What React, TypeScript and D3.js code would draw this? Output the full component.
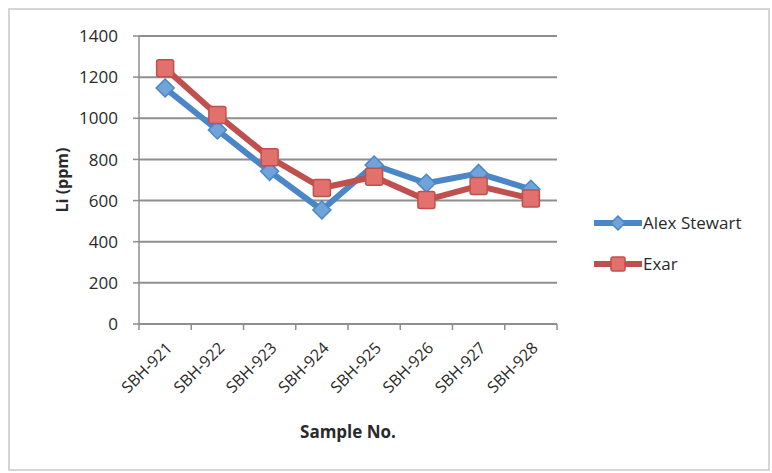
import React from "react";
import * as d3 from "d3";

const categories = ["SBH-921", "SBH-922", "SBH-923", "SBH-924", "SBH-925", "SBH-926", "SBH-927", "SBH-928"];
const alexStewart = [1147, 943, 742, 554, 773, 684, 732, 655];
const exar = [1243, 1016, 810, 661, 716, 603, 671, 610];
const yTicks = [0, 200, 400, 600, 800, 1000, 1200, 1400];
const seriesNames = ["Alex Stewart", "Exar"];

const W = 772, H = 473;
const left = 139, right = 557, top = 36, bottom = 324;
const FONT = "'Open Sans', 'Liberation Sans', sans-serif";

export default function App() {
  const x = d3.scaleBand<string>().domain(categories).range([left, right]);
  const y = d3.scaleLinear().domain([0, 1400]).range([bottom, top]);
  const line = d3.line<number>().x((_, i) => (x(categories[i]) as number) + x.bandwidth() / 2).y((d) => y(d));
  const blue = "#4a86c8";
  const red = "#c0504d";
  const diamond = (cx: number, cy: number, r: number) => `M${cx},${cy - r}L${cx + r},${cy}L${cx},${cy + r}L${cx - r},${cy}Z`;
  const boundaries = d3.range(categories.length + 1).map((i) => left + i * x.bandwidth());

  return (
    <svg width={W} height={H} style={{ position: "absolute", left: 0, top: 0 }}>
      <rect x={0} y={0} width={W} height={H} fill="#ffffff" />
      <rect x={9} y={9} width={760} height={461} fill="#ffffff" stroke="#c8c8c8" strokeWidth={1.5} />
      {yTicks.map((t) => (
        <g key={t}>
          {t > 0 && <line x1={left} x2={right} y1={y(t)} y2={y(t)} stroke="#8e8e8e" strokeWidth={2} />}
          <line x1={left - 6} x2={left} y1={y(t)} y2={y(t)} stroke="#8e8e8e" strokeWidth={1.5} />
          <text x={118} y={y(t)} dy="0.36em" textAnchor="end" fontFamily={FONT} fontSize={17} fill="#2a2a2a">{t}</text>
        </g>
      ))}
      <line x1={left} x2={left} y1={top} y2={bottom} stroke="#8e8e8e" strokeWidth={1.5} />
      <line x1={left} x2={right} y1={bottom} y2={bottom} stroke="#8e8e8e" strokeWidth={2} />
      {boundaries.map((b, i) => (
        <line key={i} x1={b} x2={b} y1={bottom} y2={bottom + 6} stroke="#8e8e8e" strokeWidth={1.5} />
      ))}
      {categories.map((c) => {
        const cx = (x(c) as number) + x.bandwidth() / 2 + 8;
        const cy = bottom + 25;
        return (
          <text key={c} x={cx} y={cy} textAnchor="end" transform={`rotate(-45 ${cx} ${cy})`} fontFamily={FONT} fontSize={16} fill="#2a2a2a">{c}</text>
        );
      })}
      <text x={0} y={0} transform={`translate(68 180) rotate(-90)`} textAnchor="middle" fontFamily={FONT} fontSize={16} fontWeight="bold" fill="#2a2a2a">Li (ppm)</text>
      <text x={348} y={438} textAnchor="middle" fontFamily={FONT} fontSize={17} fontWeight="bold" fill="#2a2a2a">Sample No.</text>

      <path d={line(alexStewart) as string} fill="none" stroke={blue} strokeWidth={6} strokeLinejoin="round" />
      {alexStewart.map((v, i) => {
        const cx = (x(categories[i]) as number) + x.bandwidth() / 2;
        return <path key={i} d={diamond(cx, y(v), 9)} fill="#6fa3da" stroke={blue} strokeWidth={1.5} />;
      })}
      <path d={line(exar) as string} fill="none" stroke={red} strokeWidth={6} strokeLinejoin="round" />
      {exar.map((v, i) => {
        const cx = (x(categories[i]) as number) + x.bandwidth() / 2;
        return <rect key={i} x={cx - 8.5} y={y(v) - 8.5} width={17} height={17} rx={2} fill="#e2716e" stroke={red} strokeWidth={1.5} />;
      })}

      {seriesNames.map((n, i) => {
        const ly = 223 + i * 41;
        const color = i === 0 ? blue : red;
        return (
          <g key={n}>
            <line x1={594} x2={642} y1={ly} y2={ly} stroke={color} strokeWidth={6} />
            {i === 0 ? (
              <path d={diamond(618, ly, 7)} fill="#6fa3da" stroke={blue} strokeWidth={1.5} />
            ) : (
              <rect x={611} y={ly - 7} width={14} height={14} rx={2} fill="#e2716e" stroke={red} strokeWidth={1.5} />
            )}
            <text x={643} y={ly} dy="0.36em" fontFamily={FONT} fontSize={17} fill="#2a2a2a">{n}</text>
          </g>
        );
      })}
    </svg>
  );
}
